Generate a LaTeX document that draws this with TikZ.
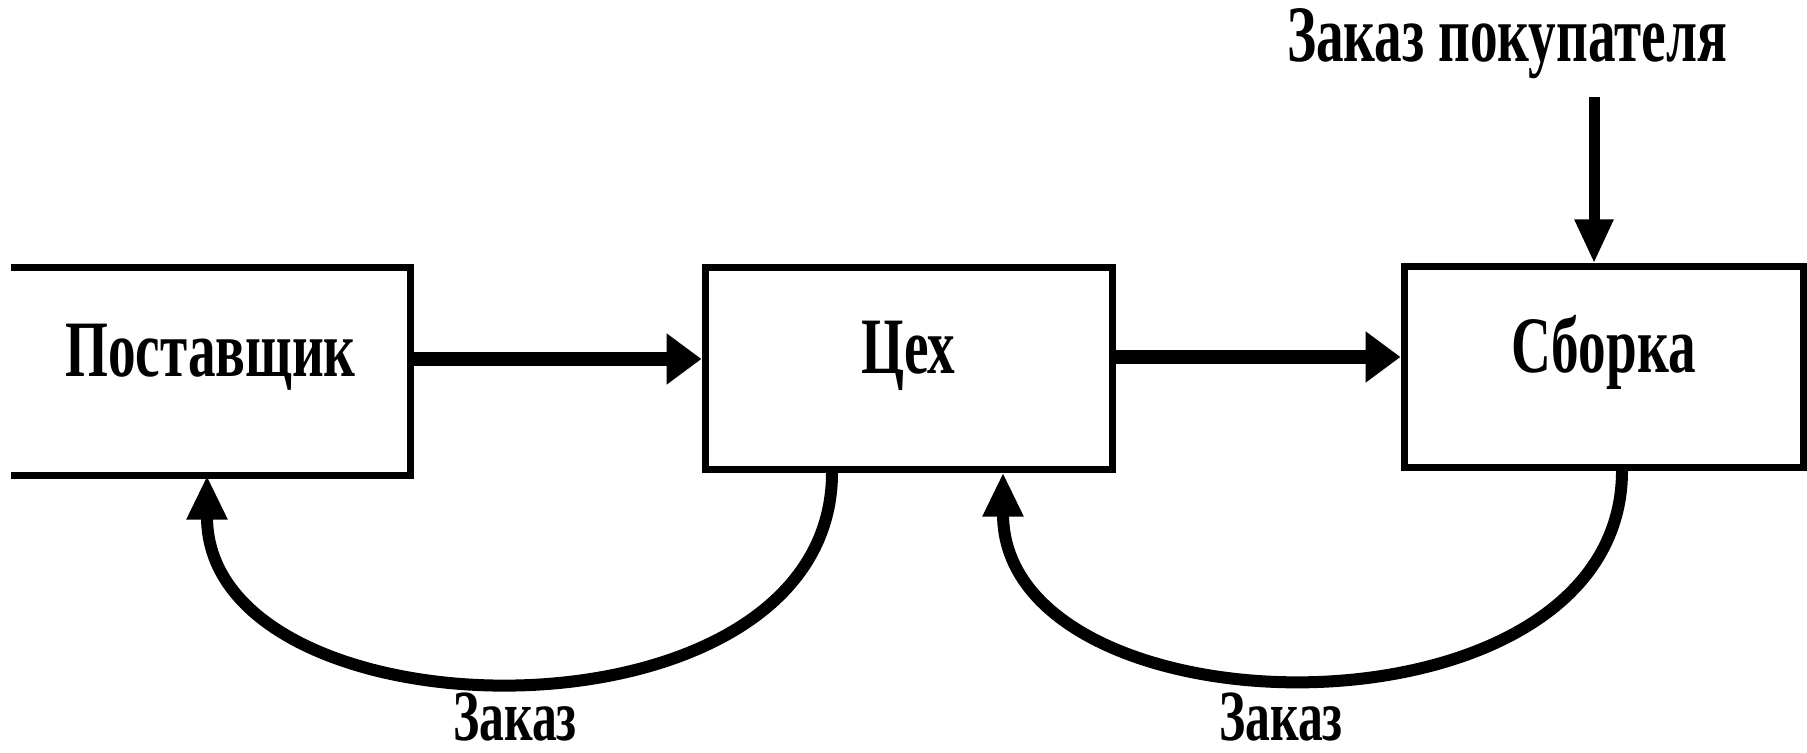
\documentclass[tikz,border=0pt]{standalone}
\usepackage{fontspec}
\setmainfont{Liberation Serif}[FakeStretch=0.69]
\usetikzlibrary{arrows.meta,calc}
\newcommand{\lblfont}{\fontsize{40pt}{42pt}\selectfont\bfseries}
\newcommand{\smallfont}{\fontsize{36pt}{38pt}\selectfont\bfseries}
\tikzset{
  box/.style={line width=3.5pt, minimum height=100pt, inner sep=0pt,
    font=\lblfont, text height=26pt, text depth=21pt},
  lbl/.style={font=\lblfont, inner sep=0pt, anchor=base},
  blbl/.style={font=\smallfont, inner sep=0pt, anchor=base},
  harrow/.style={line width=7pt, -{Triangle[length=17.5pt,width=24.5pt]}},
  varrow/.style={line width=5.5pt, -{Triangle[length=22pt,width=18pt]}},
  carrow/.style={line width=6pt, -{Triangle[length=22pt,width=19pt]}},
}
\begin{document}
\begin{tikzpicture}[x=0.5pt,y=-0.5pt]
\useasboundingbox (0,0) rectangle (1807,753);
% boxes
\node[box, minimum width=196.5pt, minimum height=100.5pt] (post) at (210.5,371.5) {Поставщик};
\draw[line width=3.5pt] (post.north west) -- (post.north east) -- (post.south east) -- (post.south west);
\node[box, draw, minimum width=203.5pt, minimum height=100.5pt] (tseh) at (908.5,368.5) {Цех};
\node[box, draw, minimum width=199.5pt] (sborka) at (1603.5,367) {Сборка};
% top label
\node[lbl] (zp) at (1507,62) {Заказ покупателя};
\coordinate (cust) at (1594,97);
\draw[varrow] (cust) -- ([xshift=-4.75pt]sborka.north);
% forward arrows
\draw[harrow] ([yshift=6.25pt]post.east) -- ([yshift=4.75pt]tseh.west);
\draw[harrow] ([yshift=5.75pt]tseh.east) -- ([yshift=5pt]sborka.west);
% feedback arcs
\coordinate (c1s) at ([xshift=-38.25pt]tseh.south);
\coordinate (c1e) at ([xshift=-1.75pt]post.south);
\draw[carrow] (c1s) .. controls ($(c1s)+(0,282)$) and ($(c1e)+(0,268)$) .. (c1e);
\coordinate (c2s) at ([xshift=9.25pt]sborka.south);
\coordinate (c2e) at ([xshift=47.25pt]tseh.south);
\draw[carrow] (c2s) .. controls ($(c2s)+(0,280)$) and ($(c2e)+(0,268)$) .. (c2e);
% bottom labels
\node[blbl] (z1) at (515,740) {Заказ};
\node[blbl] (z2) at (1281,740) {Заказ};
\end{tikzpicture}
\end{document}
